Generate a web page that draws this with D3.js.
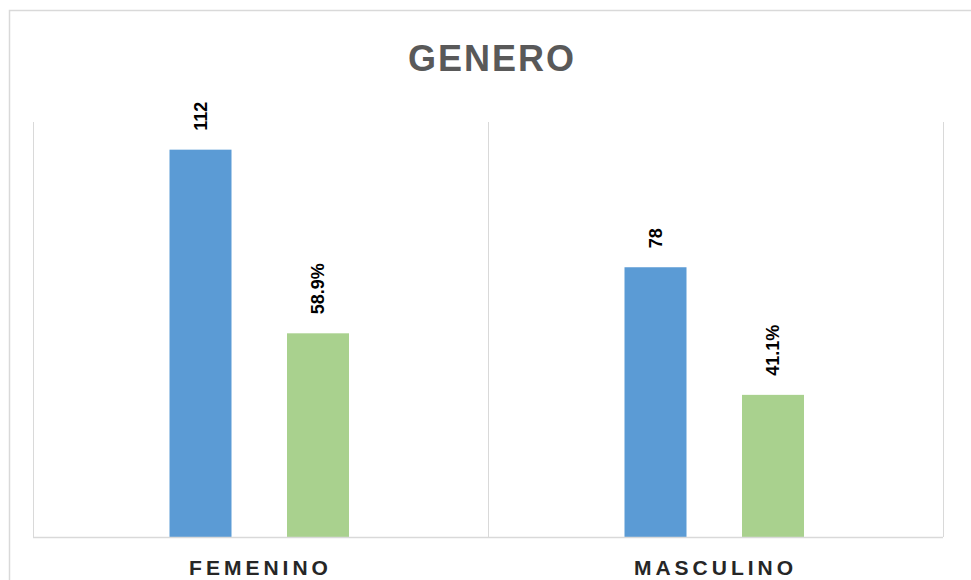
<!DOCTYPE html>
<html><head><meta charset="utf-8">
<script src="https://cdn.jsdelivr.net/npm/d3@7"></script>
<style>body{margin:0;background:#fff}svg{display:block}</style>
</head><body>
<svg id="c" width="971" height="580"></svg>
<script>
const categories = ["FEMENINO", "MASCULINO"];
const countValues = [112, 78];
const percentValues = [58.9, 41.1];
const countLabels = ["112", "78"];
const percentLabels = ["58.9%", "41.1%"];
const title = "GENERO";

const svg = d3.select("#c");
const plot = {left: 33, right: 943, top: 122, bottom: 537};

// chart border
svg.append("rect").attr("x", 9.5).attr("y", 10.5).attr("width", 980).attr("height", 600)
  .attr("fill", "#fff").attr("stroke", "#d9d9d9").attr("stroke-width", 1.5);

const x = d3.scaleBand().domain(categories).range([plot.left, plot.right]).padding(0);
const y = d3.scaleLinear().domain([0, 120]).range([plot.bottom, plot.top]);

// vertical gridlines at category boundaries
const bounds = categories.map(c => x(c)).concat([plot.right]);
svg.append("g").selectAll("line").data(bounds).join("line")
  .attr("x1", d => d + 0.5).attr("x2", d => d + 0.5)
  .attr("y1", plot.top).attr("y2", plot.bottom)
  .attr("stroke", "#d9d9d9").attr("stroke-width", 1);

const rows = categories.map((c, i) => ({c, i}));
const g = svg.append("g");
const bw = 62;
const off = {count: -60, pct: 57.5};
function center(c, key){ return x(c) + x.bandwidth()/2 + off[key]; }

g.selectAll(".b1").data(rows).join("rect")
  .attr("x", d => center(d.c, "count") - bw/2).attr("width", bw)
  .attr("y", d => y(countValues[d.i])).attr("height", d => y(0) - y(countValues[d.i]))
  .attr("fill", "#5b9bd5");
g.selectAll(".b2").data(rows).join("rect")
  .attr("x", d => center(d.c, "pct") - bw/2).attr("width", bw)
  .attr("y", d => y(percentValues[d.i])).attr("height", d => y(0) - y(percentValues[d.i]))
  .attr("fill", "#a9d18e");

// baseline
svg.append("line").attr("x1", plot.left).attr("x2", plot.right)
  .attr("y1", plot.bottom + 0.5).attr("y2", plot.bottom + 0.5)
  .attr("stroke", "#d9d9d9").attr("stroke-width", 1.5);

const labFont = "'Liberation Sans Narrow','Liberation Sans',Arial,sans-serif";
function vlabel(xp, yp, t){
  g.append("text").attr("transform", `translate(${xp},${yp}) rotate(-90)`)
    .attr("text-anchor", "start").attr("dy", "0.35em")
    .attr("font-family", "'Liberation Sans',Arial,sans-serif").attr("font-weight", "bold")
    .attr("font-size", 18).attr("fill", "#000").text(t);
}
rows.forEach(d => {
  vlabel(center(d.c, "count"), y(countValues[d.i]) - 19, countLabels[d.i]);
  vlabel(center(d.c, "pct"), y(percentValues[d.i]) - 19, percentLabels[d.i]);
});

// category labels
svg.append("g").selectAll("text").data(categories).join("text")
  .attr("x", d => x(d) + x.bandwidth()/2).attr("y", 575)
  .attr("text-anchor", "middle")
  .attr("font-family", labFont).attr("font-weight", "bold")
  .attr("font-size", 21).attr("letter-spacing", 4).attr("fill", "#262626")
  .text(d => d);

// title
svg.append("text").attr("x", 492).attr("y", 71).attr("text-anchor", "middle")
  .attr("font-family", labFont).attr("font-weight", "bold")
  .attr("font-size", 36).attr("letter-spacing", 2).attr("fill", "#595959")
  .text(title);
</script>
</body></html>
